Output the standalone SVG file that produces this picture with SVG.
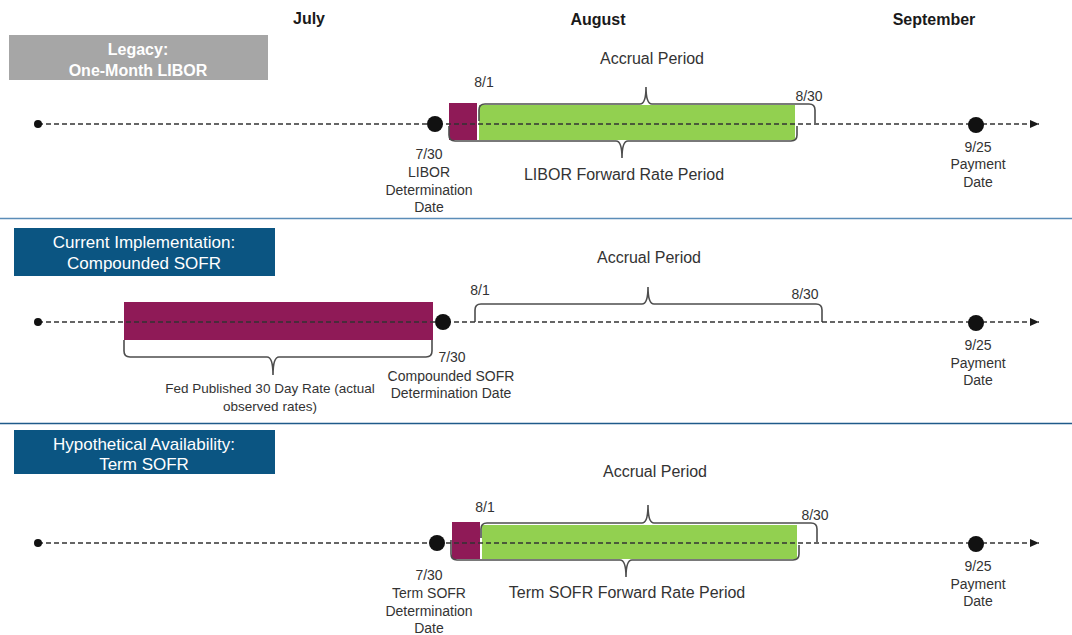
<svg xmlns="http://www.w3.org/2000/svg" width="1072" height="635" viewBox="0 0 1072 635">
<defs>
<marker id="arr" markerWidth="10" markerHeight="10" refX="9" refY="4" orient="auto" markerUnits="userSpaceOnUse">
<path d="M0,0 L9,4 L0,8 Z" fill="#1a1a1a"/>
</marker>
<style>
text{font-family:"Liberation Sans",Arial,sans-serif;fill:#333;text-anchor:middle}
.month{font-size:16px;font-weight:bold;fill:#1a1a1a}
.lbl{font-size:16px;fill:#333}
.sm{font-size:14px;fill:#333}
.fed{font-size:13.5px;fill:#333}
.boxt{font-size:17px;fill:#fff}
.boxb{font-size:16px;fill:#fff;font-weight:bold}
.tl{stroke:#333;stroke-width:1.3;stroke-dasharray:5 3;fill:none}
.brace{stroke:#4d4d4d;stroke-width:1.6;fill:none}
.pur{fill:#8f1a57}
.grn{fill:#92d050}
.blue{fill:#0b5582}
.dot{fill:#111}
</style>
</defs>
<rect width="1072" height="635" fill="#fff"/>

<g id="months">
<text class="month" x="309" y="24">July</text>
<text class="month" x="598" y="25">August</text>
<text class="month" x="934" y="25">September</text>
</g>

<g id="dividers">
<line x1="0" y1="218.5" x2="1072" y2="218.5" stroke="#5b8db8" stroke-width="1.5"/>
<line x1="0" y1="423.5" x2="1072" y2="423.5" stroke="#1f5a8a" stroke-width="1.5"/>
</g>

<!-- Section 1 -->
<g id="legacy-box">
<rect x="9" y="35" width="259" height="45" fill="#a6a6a6"/>
<text class="boxb" x="138" y="55">Legacy:</text>
<text class="boxb" x="138" y="76">One-Month LIBOR</text>
</g>
<g id="s1-bars">
<rect class="pur" x="449" y="103" width="28" height="37"/>
<rect class="grn" x="479" y="105" width="316" height="35"/>
</g>
<g id="s1-accrual">
<path class="brace" d="M479,121 L479,110 Q479,104 485,104 L640,104 Q646,104 646,87 Q646,104 652,104 L809,104 Q815,104 815,110 L815,123"/>
<text class="lbl" x="652" y="64">Accrual Period</text>
<text class="sm" x="484" y="87">8/1</text>
<text class="sm" x="809" y="101">8/30</text>
</g>
<g id="s1-forward">
<path class="brace" d="M449,126 L449,135 Q449,141 455,141 L616,141 Q622,141 622,158 Q622,141 628,141 L791,141 Q797,141 797,135 L797,126"/>
<text class="lbl" x="624" y="180">LIBOR Forward Rate Period</text>
</g>

<!-- Section 2 -->
<g id="current-box">
<rect class="blue" x="14" y="228" width="261" height="48"/>
<text class="boxt" x="144" y="248">Current Implementation:</text>
<text class="boxt" x="144" y="269">Compounded SOFR</text>
</g>
<g id="s2-fed">
<rect class="pur" x="124" y="302" width="309" height="38"/>
<path class="brace" d="M124,340 L124,351 Q124,357 130,357 L267,357 Q273,357 273,375 Q273,357 279,357 L426,357 Q432,357 432,351 L432,340"/>
<text class="fed" x="270" y="393">Fed Published 30 Day Rate (actual</text>
<text class="fed" x="270" y="411">observed rates)</text>
</g>
<g id="s2-accrual">
<path class="brace" d="M475,322 L475,310 Q475,304 481,304 L642,304 Q648,304 648,287 Q648,304 654,304 L816,304 Q822,304 822,310 L822,322"/>
<text class="lbl" x="649" y="263">Accrual Period</text>
<text class="sm" x="480" y="295">8/1</text>
<text class="sm" x="805" y="299">8/30</text>
</g>

<!-- Section 3 -->
<g id="hypothetical-box">
<rect class="blue" x="14" y="430" width="261" height="44"/>
<text class="boxt" x="144" y="450">Hypothetical Availability:</text>
<text class="boxt" x="144" y="470">Term SOFR</text>
</g>
<g id="s3-bars">
<rect class="pur" x="452" y="522" width="28" height="37"/>
<rect class="grn" x="482" y="525" width="315" height="34"/>
</g>
<g id="s3-accrual">
<path class="brace" d="M481,538 L481,529 Q481,523 487,523 L642,523 Q648,523 648,505 Q648,523 654,523 L811,523 Q817,523 817,529 L817,542"/>
<text class="lbl" x="655" y="477">Accrual Period</text>
<text class="sm" x="485" y="512">8/1</text>
<text class="sm" x="815" y="520">8/30</text>
</g>
<g id="s3-forward">
<path class="brace" d="M451,540 L451,554 Q451,560 457,560 L620,560 Q626,560 626,577 Q626,560 632,560 L793,560 Q799,560 799,554 L799,545"/>
<text class="lbl" x="627" y="598">Term SOFR Forward Rate Period</text>
</g>

<g id="connectors">
<line class="tl" x1="38" y1="124" x2="1039" y2="124" marker-end="url(#arr)"/>
<line class="tl" x1="38" y1="322" x2="1039" y2="322" marker-end="url(#arr)"/>
<line class="tl" x1="38" y1="543" x2="1039" y2="543" marker-end="url(#arr)"/>
</g>

<g id="s1-start"><circle class="dot" cx="38" cy="124" r="4"/></g>
<g id="s1-determination">
<circle class="dot" cx="435" cy="124" r="8"/>
<text class="sm" x="429" y="159">7/30</text>
<text class="sm" x="429" y="177">LIBOR</text>
<text class="sm" x="429" y="195">Determination</text>
<text class="sm" x="429" y="212">Date</text>
</g>
<g id="s1-payment">
<circle class="dot" cx="976" cy="125" r="8"/>
<text class="sm" x="978" y="152">9/25</text>
<text class="sm" x="978" y="169">Payment</text>
<text class="sm" x="978" y="187">Date</text>
</g>

<g id="s2-start"><circle class="dot" cx="38" cy="322" r="4"/></g>
<g id="s2-determination">
<circle class="dot" cx="443" cy="322" r="8"/>
<text class="sm" x="452" y="362">7/30</text>
<text class="sm" x="451" y="381">Compounded SOFR</text>
<text class="sm" x="451" y="398">Determination Date</text>
</g>
<g id="s2-payment">
<circle class="dot" cx="976" cy="323" r="8"/>
<text class="sm" x="978" y="350">9/25</text>
<text class="sm" x="978" y="368">Payment</text>
<text class="sm" x="978" y="385">Date</text>
</g>

<g id="s3-start"><circle class="dot" cx="38" cy="543" r="4"/></g>
<g id="s3-determination">
<circle class="dot" cx="437" cy="543" r="8"/>
<text class="sm" x="429" y="580">7/30</text>
<text class="sm" x="429" y="598">Term SOFR</text>
<text class="sm" x="429" y="616">Determination</text>
<text class="sm" x="429" y="633">Date</text>
</g>
<g id="s3-payment">
<circle class="dot" cx="976" cy="544" r="8"/>
<text class="sm" x="978" y="571">9/25</text>
<text class="sm" x="978" y="589">Payment</text>
<text class="sm" x="978" y="606">Date</text>
</g>
</svg>
